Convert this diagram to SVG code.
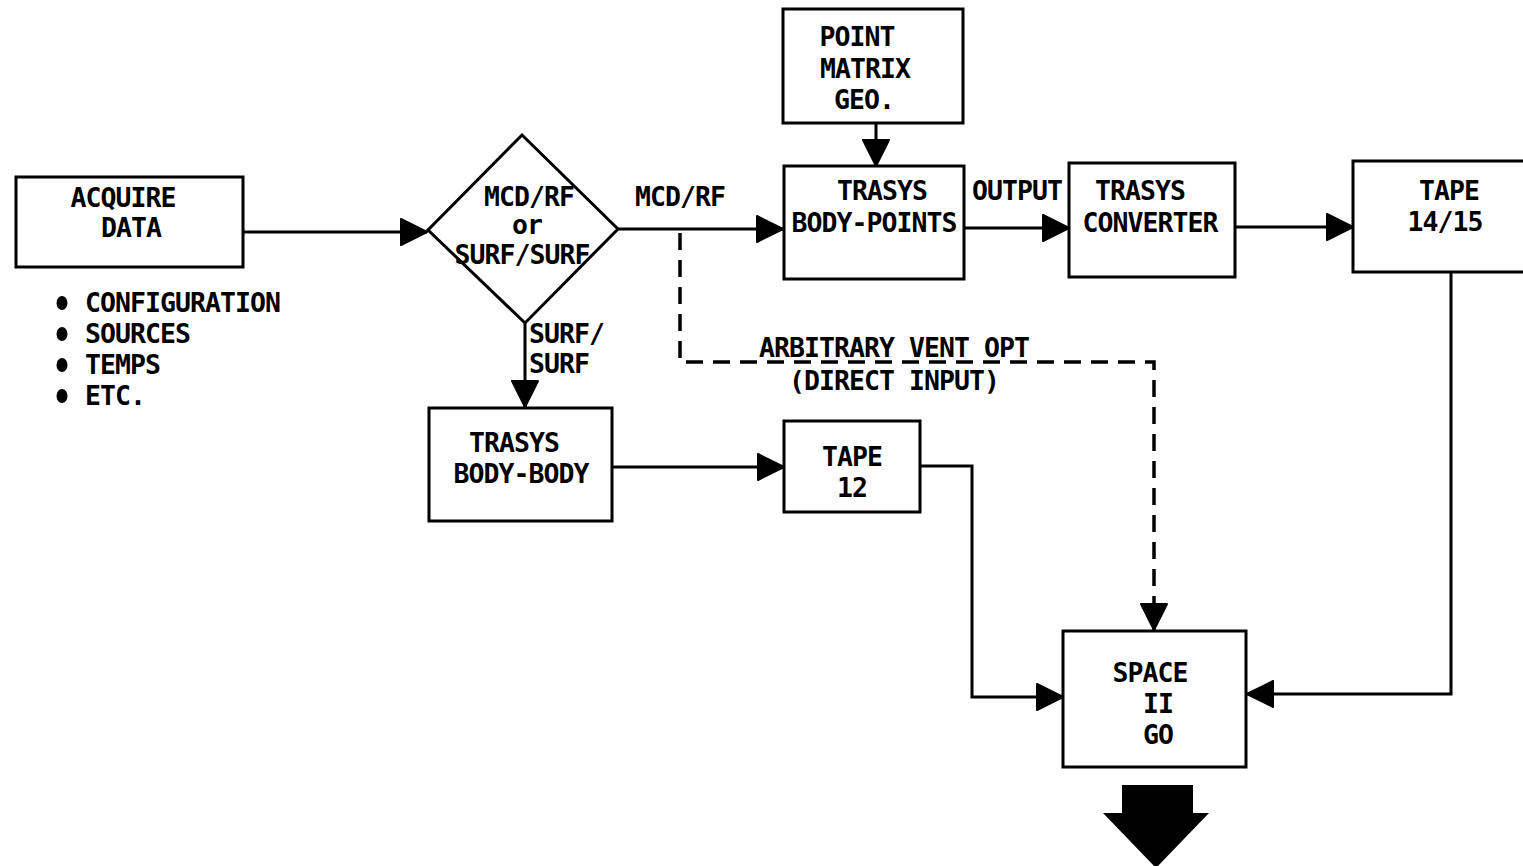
<svg xmlns="http://www.w3.org/2000/svg" width="1523" height="866" viewBox="0 0 1523 866">
  <style>
    .box { fill: #fff; stroke: #000; stroke-width: 3; }
    .t { font-family: "DejaVu Sans Mono", "Liberation Mono", monospace; font-weight: bold; font-size: 26.5px; letter-spacing: -0.95px; fill: #000; }
    .c { text-anchor: middle; }
    .line { fill: none; stroke: #000; stroke-width: 3; stroke-linejoin: miter; }
    .dash { stroke-width: 3.5; stroke-dasharray: 17 10; }
  </style>
  <defs>
    <marker id="arrow" viewBox="0 0 28 28" markerWidth="28" markerHeight="28" refX="27" refY="14" orient="auto" markerUnits="userSpaceOnUse">
      <path d="M1,1 L27,14 L1,27 Z" fill="#000" stroke="#000" stroke-width="2" stroke-linejoin="round"/>
    </marker>
  </defs>
  <rect width="1523" height="866" fill="#fff"/>

  <!-- connectors -->
  <g id="connectors">
    <path class="line" d="M243,232 L427,232" marker-end="url(#arrow)"/>
    <path class="line" d="M618,229 L783,229" marker-end="url(#arrow)"/>
    <path class="line" d="M525,323 L525,407" marker-end="url(#arrow)"/>
    <path class="line" d="M876,123 L876,166" marker-end="url(#arrow)"/>
    <path class="line" d="M964,228 L1069,228" marker-end="url(#arrow)"/>
    <path class="line" d="M1235,227 L1353,227" marker-end="url(#arrow)"/>
    <path class="line" d="M612,467 L784,467" marker-end="url(#arrow)"/>
    <path class="line" d="M920,466 L972,466 L972,697 L1063,697" marker-end="url(#arrow)"/>
    <path class="line" d="M1451,272 L1451,694 L1247,694" marker-end="url(#arrow)"/>
    <path class="line dash" d="M680,233 L680,362 L1154,362 L1154,630" marker-end="url(#arrow)"/>
    <text class="t" x="680" y="206" text-anchor="middle">MCD/RF</text>
    <text class="t" x="529" y="343">SURF/</text>
    <text class="t" x="529" y="373">SURF</text>
    <text class="t c" x="1017" y="200">OUTPUT</text>
    <text class="t c" x="894" y="357">ARBITRARY VENT OPT</text>
    <text class="t c" x="894" y="390">(DIRECT INPUT)</text>
  </g>

  <g id="acquire-data">
    <rect class="box" x="16" y="177" width="227" height="90"/>
    <text class="t c" x="123" y="207">ACQUIRE</text>
    <text class="t c" x="131" y="237">DATA</text>
  </g>

  <g id="acquire-items">
    <ellipse cx="62" cy="303" rx="5.5" ry="7"/>
    <ellipse cx="62" cy="334" rx="5.5" ry="7"/>
    <ellipse cx="62" cy="365" rx="5.5" ry="7"/>
    <ellipse cx="62" cy="396" rx="5.5" ry="7"/>
    <text class="t" x="85" y="312">CONFIGURATION</text>
    <text class="t" x="85" y="343">SOURCES</text>
    <text class="t" x="85" y="374">TEMPS</text>
    <text class="t" x="85" y="405">ETC.</text>
  </g>

  <g id="decision">
    <polygon class="box" points="522,135 618,229 525,323 428,230"/>
    <text class="t c" x="529" y="206">MCD/RF</text>
    <text class="t c" x="527" y="234">or</text>
    <text class="t c" x="522" y="264">SURF/SURF</text>
  </g>

  <g id="point-matrix-geo">
    <rect class="box" x="783" y="9" width="180" height="114"/>
    <text class="t c" x="857" y="46">POINT</text>
    <text class="t c" x="865" y="78">MATRIX</text>
    <text class="t c" x="864" y="109">GEO.</text>
  </g>

  <g id="trasys-body-points">
    <rect class="box" x="784" y="166" width="180" height="113"/>
    <text class="t c" x="882" y="200">TRASYS</text>
    <text class="t c" x="874" y="232">BODY-POINTS</text>
  </g>

  <g id="trasys-converter">
    <rect class="box" x="1069" y="163" width="166" height="114"/>
    <text class="t c" x="1140" y="200">TRASYS</text>
    <text class="t c" x="1150" y="232">CONVERTER</text>
  </g>

  <g id="tape-14-15">
    <rect class="box" x="1353" y="161" width="175" height="111"/>
    <text class="t c" x="1449" y="200">TAPE</text>
    <text class="t c" x="1445" y="231">14/15</text>
  </g>

  <g id="trasys-body-body">
    <rect class="box" x="429" y="408" width="183" height="113"/>
    <text class="t c" x="514" y="452">TRASYS</text>
    <text class="t c" x="521" y="483">BODY-BODY</text>
  </g>

  <g id="tape-12">
    <rect class="box" x="784" y="421" width="136" height="91"/>
    <text class="t c" x="852" y="466">TAPE</text>
    <text class="t c" x="852" y="497">12</text>
  </g>

  <g id="space-ii-go">
    <rect class="box" x="1063" y="631" width="183" height="136"/>
    <text class="t c" x="1150" y="682">SPACE</text>
    <text class="t c" x="1158" y="713">II</text>
    <text class="t c" x="1158" y="744">GO</text>
  </g>

  <g id="output-arrow">
    <polygon points="1122,785 1193,785 1193,813 1209,813 1156,868 1103,813 1122,813" fill="#000"/>
  </g>
</svg>
